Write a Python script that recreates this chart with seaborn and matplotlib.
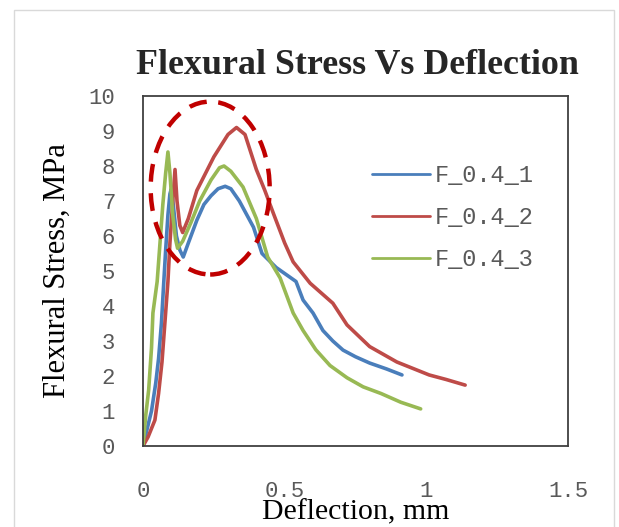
import pandas as pd
import seaborn as sns
import matplotlib.pyplot as plt
from matplotlib.patches import Ellipse, Rectangle

# =========================
# DATA
# =========================
x1 = [0, 0.015, 0.03, 0.045, 0.055, 0.065, 0.072, 0.08, 0.088, 0.095, 0.1, 0.108,
      0.118, 0.13, 0.142, 0.16, 0.19, 0.215, 0.24, 0.265, 0.29, 0.31, 0.34, 0.37,
      0.39, 0.42, 0.47, 0.54, 0.565, 0.6, 0.635, 0.67, 0.706, 0.75, 0.8, 0.86, 0.914]
y1 = [0, 0.5, 1.0, 1.8, 2.5, 3.5, 4.5, 5.6, 6.6, 7.2, 7.35, 6.8,
      6.0, 5.6, 5.4, 5.8, 6.45, 6.9, 7.15, 7.35, 7.42, 7.35, 7.0, 6.55,
      6.25, 5.5, 5.1, 4.7, 4.17, 3.8, 3.3, 3.0, 2.74, 2.55, 2.37, 2.2, 2.03]

x2 = [0, 0.018, 0.042, 0.055, 0.067, 0.078, 0.088, 0.095, 0.105, 0.113, 0.12, 0.13,
      0.14, 0.16, 0.19, 0.25, 0.3, 0.33, 0.36, 0.4, 0.43, 0.46, 0.5, 0.53, 0.59,
      0.67, 0.72, 0.8, 0.896, 1.01, 1.07, 1.137]
y2 = [0, 0.26, 0.74, 1.5, 2.4, 3.6, 4.7, 5.8, 7.0, 7.9, 7.0, 6.3,
      6.1, 6.5, 7.3, 8.26, 8.9, 9.1, 8.9, 7.9, 7.3, 6.65, 5.8, 5.26, 4.65,
      4.08, 3.46, 2.84, 2.4, 2.03, 1.9, 1.74]

x3 = [0, 0.01, 0.02, 0.03, 0.035, 0.045, 0.05, 0.06, 0.07, 0.08, 0.088, 0.095,
      0.105, 0.115, 0.122, 0.14, 0.17, 0.2, 0.24, 0.27, 0.286, 0.31, 0.353, 0.4,
      0.44, 0.484, 0.53, 0.565, 0.61, 0.66, 0.72, 0.777, 0.84, 0.91, 0.98]
y3 = [0, 0.9, 1.6, 2.8, 3.8, 4.4, 4.7, 5.8, 6.9, 7.8, 8.4, 7.8,
      6.6, 5.9, 5.65, 5.85, 6.4, 7.0, 7.6, 7.95, 8.0, 7.85, 7.4, 6.5,
      5.4, 4.8, 3.8, 3.3, 2.75, 2.3, 1.95, 1.69, 1.5, 1.25, 1.06]

labels = ["F_0.4_1", "F_0.4_2", "F_0.4_3"]
colors = ["#4a7ebb", "#be4b48", "#98b954"]

x_ticks = [0, 0.5, 1, 1.5]
x_tick_labels = ["0", "0.5", "1", "1.5"]
y_ticks = list(range(0, 11))

df = pd.concat([
    pd.DataFrame({"x": x1, "y": y1, "sample": labels[0]}),
    pd.DataFrame({"x": x2, "y": y2, "sample": labels[1]}),
    pd.DataFrame({"x": x3, "y": y3, "sample": labels[2]}),
], ignore_index=True)

# =========================
# PLOT
# =========================
sns.set_style("white")
serif = ["Liberation Serif", "DejaVu Serif"]
mono = ["Liberation Mono", "DejaVu Sans Mono"]

fig = plt.figure(figsize=(6.19, 5.27), dpi=100)
ax = fig.add_axes([143 / 619, 81 / 527, 425 / 619, 350 / 527])

sns.lineplot(data=df, x="x", y="y", hue="sample", palette=colors,
             sort=False, estimator=None, linewidth=2.6, ax=ax, legend=False)

# dashed ellipse highlighting the peaks
ax.add_patch(Ellipse((0.237, 7.37), 0.42, 4.94, fill=False, edgecolor="#c00000",
                     linewidth=3.2, linestyle=(0, (4, 2.6)), zorder=5))

ax.set_xlim(0, 1.5)
ax.set_ylim(0, 10)
ax.set_xticks(x_ticks)
ax.set_xticklabels(x_tick_labels)
ax.set_yticks(y_ticks)
ax.tick_params(axis="x", length=0, pad=25, labelsize=16, labelcolor="#595959")
ax.tick_params(axis="y", length=0, pad=20, labelsize=16, labelcolor="#595959")
for t in ax.get_xticklabels() + ax.get_yticklabels():
    t.set_family(mono)

for s in ax.spines.values():
    s.set_color("#404040")
    s.set_linewidth(1.3)

ax.set_xlabel("Deflection, mm", family=serif, fontsize=21.5, color="black")
ax.xaxis.set_label_coords(0.5, -0.153)
ax.set_ylabel("Flexural Stress, MPa", family=serif, fontsize=22, color="black", labelpad=12)

fig.text(357 / 619, 1 - 65 / 527, "Flexural Stress Vs Deflection", family=serif,
         fontsize=25.8, fontweight="bold", ha="center", va="center")

handles = [plt.Line2D([], [], color=c, linewidth=2) for c in colors]
leg = fig.legend(handles, labels, loc="upper left", bbox_to_anchor=(372 / 619, 1 - 164 / 527),
                 frameon=False, borderpad=0, borderaxespad=0, handlelength=2.45,
                 handletextpad=0.2, labelspacing=0.8,
                 prop={"family": mono, "size": 17})
for t in leg.get_texts():
    t.set_color("#595959")

# light chart-area border
fig.patches.append(Rectangle((14 / 619, -0.01), 600 / 619, 1 - 10 / 527 + 0.01,
                             transform=fig.transFigure, fill=False,
                             edgecolor="#d9d9d9", linewidth=1))

plt.savefig("out.png", dpi=100)
plt.close()
